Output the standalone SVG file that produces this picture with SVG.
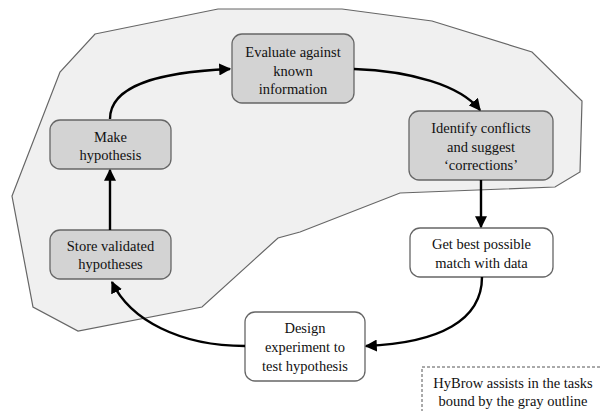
<svg xmlns="http://www.w3.org/2000/svg" width="601" height="411" viewBox="0 0 601 411">
<defs>
<marker id="ah" viewBox="0 0 10 10" refX="9" refY="5" markerWidth="5" markerHeight="5" markerUnits="strokeWidth" orient="auto">
<path d="M0,0 L10,5 L0,10 z" fill="#000"/>
</marker>
<style>
.n rect{stroke:#666;stroke-width:1.3}
.g rect{fill:#d3d3d3}
.w rect{fill:#fff}
text{font-family:"Liberation Serif",serif;font-size:14.5px;fill:#111;text-anchor:middle}
.c path{fill:none;stroke:#000;stroke-width:2.4;marker-end:url(#ah)}
</style>
</defs>
<rect width="601" height="411" fill="#fff"/>
<polygon id="outline" points="95,34 218,9 342,9 432,21 532,52 582,101 580,172 555,187 400,193 300,232 278,238 202,307 78,331 33,307 12,196 60,72" fill="#f0f0f0" stroke="#666" stroke-width="1.2"/>
<g id="evaluate" class="n g"><rect x="232" y="34" width="122" height="69" rx="10"/>
<text x="293" y="57">Evaluate against</text><text x="293" y="76">known</text><text x="293" y="94">information</text></g>
<g id="make" class="n g"><rect x="50" y="120" width="121" height="49" rx="10"/>
<text x="110.5" y="142">Make</text><text x="110.5" y="160">hypothesis</text></g>
<g id="identify" class="n g"><rect x="409" y="111" width="144" height="69" rx="10"/>
<text x="481" y="133">Identify conflicts</text><text x="481" y="152">and suggest</text><text x="481" y="170">‘corrections’</text></g>
<g id="store" class="n g"><rect x="50" y="230" width="121" height="49" rx="10"/>
<text x="110.5" y="251">Store validated</text><text x="110.5" y="269">hypotheses</text></g>
<g id="getbest" class="n w"><rect x="410" y="228" width="143" height="49" rx="10"/>
<text x="481.5" y="249">Get best possible</text><text x="481.5" y="268">match with data</text></g>
<g id="design" class="n w"><rect x="245" y="312" width="120" height="69" rx="10"/>
<text x="305" y="333">Design</text><text x="305" y="352">experiment to</text><text x="305" y="371">test hypothesis</text></g>
<g id="note"><rect x="422" y="367" width="185" height="50" fill="#fff" stroke="#555" stroke-width="1" stroke-dasharray="3,2"/>
<text x="513" y="388">HyBrow assists in the tasks</text><text x="513" y="406">bound by the gray outline</text></g>
<g id="connectors" class="c">
<path d="M110,119 C110,85 160,72 230,69"/>
<path d="M354,69 C410,71 460,85 480,110"/>
<path d="M481,180 L481,227"/>
<path d="M482,277 C482,320 440,343 366,346"/>
<path d="M245,346 C180,346 130,320 112,282"/>
<path d="M110,230 L110,170"/>
</g>
</svg>
